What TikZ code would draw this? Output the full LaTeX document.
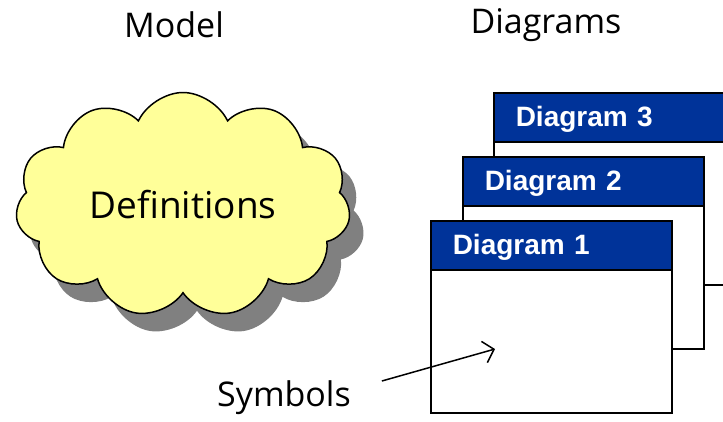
\documentclass[tikz,border=0pt]{standalone}
\usepackage{fontspec}
\setmainfont{Open Sans}
\newfontfamily\hdrfont{Liberation Sans}
\usetikzlibrary{shapes.symbols,shadows,arrows.meta}
\definecolor{cloudyellow}{HTML}{FFFF99}
\definecolor{hdrblue}{HTML}{003399}
\begin{document}
\begin{tikzpicture}[x=1pt, y=-1pt, line width=1.5pt,
  hand/.style={font=\fontsize{34}{40}\selectfont},
  dbody/.style={draw, fill=white, rectangle, anchor=north west, minimum width=241pt, minimum height=192pt},
  dhead/.style={draw, fill=hdrblue, text=white, rectangle, anchor=north west, minimum height=49pt,
    text width=197pt, inner xsep=22pt, text depth=2pt, align=left, font=\hdrfont\bfseries\fontsize{28}{32}\selectfont}]

\clip (0,0) rectangle (723,421);

% Titel
\node[hand] (model) at (174,25) {Model};
\node[hand] (diagrams) at (546,25) {Diagrams};

% Wolke
\node[cloud, cloud puffs=11, cloud puff arc=130, aspect=1.5, draw, fill=cloudyellow,
  minimum width=335pt, minimum height=225pt, hand, font=\fontsize{37}{44}\selectfont,
  drop shadow={shadow xshift=14pt, shadow yshift=-18pt, fill=gray, opacity=1}] (defs) at (183,205) {Definitions};

% Diagramme
\node[dbody] (d3) at (493,92) {};
\node[dhead] (h3) at (d3.north west) {Diagram 3};
\node[dbody] (d2) at (462,156) {};
\node[dhead] (h2) at (d2.north west) {Diagram 2};
\node[dbody] (d1) at (430,220) {};
\node[dhead] (h1) at (d1.north west) {Diagram 1};

% Symbole
\node[hand] (sym) at (284,398) {Symbols};
\coordinate (tip) at (495,349);
\draw[-{Straight Barb[length=10pt, width=22pt]}] ([shift={(27,-17)}]sym.east) -- (tip);

\end{tikzpicture}
\end{document}
